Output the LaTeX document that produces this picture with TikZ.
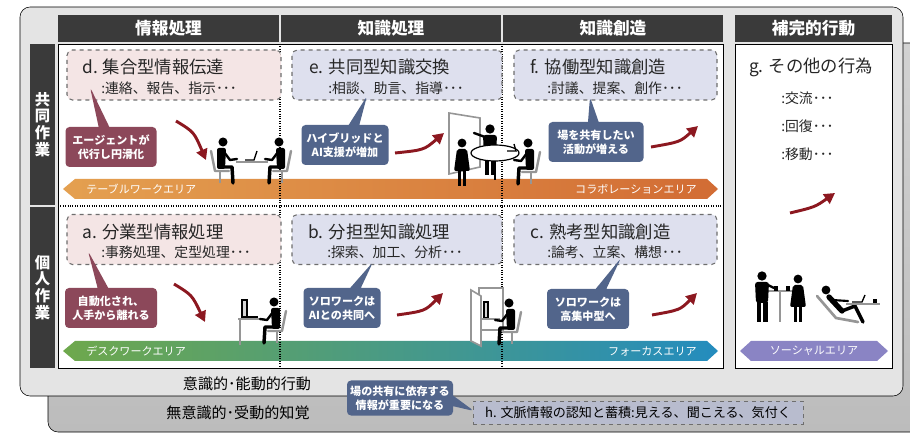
\documentclass[tikz,border=0pt]{standalone}
\usepackage{fontspec}
\setmainfont{Noto Sans CJK JP}
\usepackage{xcolor}
\usepackage{tikz}
\usetikzlibrary{shapes.callouts, arrows.meta, positioning}
\definecolor{hdrdark}{RGB}{58,58,58}
\definecolor{panelgray}{RGB}{228,228,228}
\definecolor{backtop}{RGB}{210,210,210}
\definecolor{backbot}{RGB}{188,188,188}
\definecolor{pinkbox}{RGB}{244,229,229}
\definecolor{bluebox}{RGB}{222,224,238}
\definecolor{dashgray}{RGB}{110,110,110}
\definecolor{callred}{RGB}{140,72,90}
\definecolor{callblue}{RGB}{82,101,139}
\definecolor{arrowred}{RGB}{140,24,32}
\definecolor{orangeL}{RGB}{228,160,80}
\definecolor{orangeR}{RGB}{210,108,52}
\definecolor{greenL}{RGB}{110,168,76}
\definecolor{tealR}{RGB}{36,140,190}
\definecolor{socialv}{RGB}{138,132,196}
\definecolor{chairgray}{RGB}{150,150,150}
\definecolor{hfill}{RGB}{184,188,206}
\tikzstyle{colhead} = [rectangle, fill=hdrdark, text=white, minimum height=20.25pt, inner sep=0pt, font=\bfseries\fontsize{12.5}{14}\selectfont]
\tikzstyle{rowhead} = [rectangle, fill=hdrdark, text=white, minimum width=18.75pt, minimum height=120.75pt, inner sep=0pt, align=center, font=\bfseries\fontsize{11.5}{12.5}\selectfont]
\tikzstyle{taskbox} = [rectangle, rounded corners=4pt, draw=dashgray, dashed, thick, minimum height=37.5pt]
\tikzstyle{tasktitle} = [anchor=west, inner sep=0pt, text=black!85, font=\fontsize{13}{15}\selectfont]
\tikzstyle{taskitem} = [anchor=west, inner sep=0pt, text=black!85, font=\fontsize{10.4}{12}\selectfont]
\tikzstyle{notered} = [rectangle callout, rounded corners=3pt, fill=callred, text=white, align=center, inner sep=2pt, callout pointer width=8pt, minimum height=30pt, font=\bfseries\fontsize{8.3}{10.5}\selectfont]
\tikzstyle{noteblue} = [notered, fill=callblue]
\tikzstyle{bandtext} = [inner sep=0pt, text=white, font=\fontsize{8.3}{10}\selectfont]
\tikzstyle{flow} = [line width=2.2pt, draw=arrowred, -{Triangle[length=8pt, width=8.5pt]}]
\tikzset{
  sitter/.pic={
    % chair
    \draw[chairgray, line width=1.8pt, line cap=round, line join=round] (-10,-18) -- (-6,2) -- (8,2);
    \draw[chairgray, line width=1.2pt] (-1,2) -- (-1,14);
    % head, torso, arm, legs
    \fill (2,-27) circle (3.4pt);
    \fill[rounded corners=1.5pt] (-4,-21) -- (5,-21) -- (4,0) -- (-4,0) -- cycle;
    \draw[line width=1.8pt, line cap=round, line join=round] (3,-17) -- (9,-9) -- (16,-10);
    \draw[line width=2.6pt, line cap=round, line join=round] (-1,-2) -- (11,-2) -- (12,14);
  },
  man/.pic={
    \fill (0,-46) circle (3.5pt);
    \fill[rounded corners=2pt] (-7,-40) -- (7,-40) -- (6,-19) -- (-6,-19) -- cycle;
    \fill (-5.5,-20) rectangle (-0.8,0);
    \fill (0.8,-20) rectangle (5.5,0);
  },
  woman/.pic={
    \fill (0,-43) circle (3.3pt);
    \fill[rounded corners=1.5pt] (-5,-37) -- (5,-37) -- (8,-15) -- (-8,-15) -- cycle;
    \fill (-4,-16) rectangle (-1,0);
    \fill (1,-16) rectangle (4,0);
  }
}

\begin{document}
\begin{tikzpicture}[x=0.75pt, y=-0.75pt]
    \clip (0,0) rectangle (910,434);

    % Panels
    \draw[thin, rounded corners=7.5pt, top color=backtop, bottom color=backbot] (48,43) rectangle (940,432);
    \draw[thin, rounded corners=7.5pt, fill=panelgray] (20,7) rectangle (903,396);
    \draw[thin, fill=white] (58,44) rectangle (723,368);
    \draw[thin, fill=white] (735,44) rectangle (892,368);

    % Headers
    \node[colhead, minimum width=165.75pt] (hinfo) at (168.5,28.5) {情報処理};
    \node[colhead, minimum width=165pt] (hknow) at (391,28.5) {知識処理};
    \node[colhead, minimum width=165pt] (hcreate) at (613,28.5) {知識創造};
    \node[colhead, minimum width=117.75pt] (hextra) at (813.5,28.5) {補完的行動};
    \node[rowhead] (rjoint) at (42.5,124.5) {共\\同\\作\\業};
    \node[rowhead] (rsolo) at (42.5,287.5) {個\\人\\作\\業};

    % Area bands
    \shade[left color=orangeL, right color=orangeR] (63,189) -- (75,179) -- (707,179) -- (718,189) -- (707,199) -- (75,199) -- cycle;
    \shade[left color=greenL, right color=tealR] (63,351) -- (75,341) -- (707,341) -- (718,351) -- (707,361) -- (75,361) -- cycle;
    \fill[socialv] (740,351) -- (751,341) -- (877,341) -- (888,351) -- (877,361) -- (751,361) -- cycle;
    \node[bandtext, anchor=west] (tablearea) at (86,189) {テーブルワークエリア};
    \node[bandtext, anchor=east] (collabarea) at (697,189) {コラボレーションエリア};
    \node[bandtext, anchor=west] (deskarea) at (86,351) {デスクワークエリア};
    \node[bandtext, anchor=east] (focusarea) at (697,351) {フォーカスエリア};
    \node[bandtext] (socialarea) at (814,351) {ソーシャルエリア};

    % Grid
    \draw[densely dotted, thick] (280,44) -- (280,368);
    \draw[densely dotted, thick] (502,44) -- (502,368);
    \draw[densely dotted, thick] (58,206) -- (723,206);

    % Task boxes
    \node[taskbox, fill=pinkbox, minimum width=160.5pt] (boxd) at (174,75) {};
    \node[taskbox, fill=bluebox, minimum width=157.5pt] (boxe) at (397,75) {};
    \node[taskbox, fill=bluebox, minimum width=152.25pt] (boxf) at (615.5,75) {};
    \node[taskbox, fill=pinkbox, minimum width=160.5pt] (boxa) at (174,239.5) {};
    \node[taskbox, fill=bluebox, minimum width=157.5pt] (boxb) at (397,239.5) {};
    \node[taskbox, fill=bluebox, minimum width=152.25pt] (boxc) at (615.5,239.5) {};
    \node[tasktitle] (titled) at (82,67) {d. 集合型情報伝達};
    \node[taskitem] (itemd) at (101,88) {:連絡、報告、指示･･･};
    \node[tasktitle] (titlee) at (309,67) {e. 共同型知識交換};
    \node[taskitem] (iteme) at (328,88) {:相談、助言、指導･･･};
    \node[tasktitle] (titlef) at (530,67) {f. 協働型知識創造};
    \node[taskitem] (itemf) at (547,88) {:討議、提案、創作･･･};
    \node[tasktitle] (titlea) at (82,232) {a. 分業型情報処理};
    \node[taskitem] (itema) at (101,252) {:事務処理、定型処理･･･};
    \node[tasktitle] (titleb) at (308,232) {b. 分担型知識処理};
    \node[taskitem] (itemb) at (327,252) {:探索、加工、分析･･･};
    \node[tasktitle] (titlec) at (530,232) {c. 熟考型知識創造};
    \node[taskitem] (itemc) at (547,252) {:論考、立案、構想･･･};

    % Other actions
    \node[tasktitle, anchor=center] (titleg) at (811,67) {g. その他の行為};
    \node[taskitem] (itemg1) at (781,98) {:交流･･･};
    \node[taskitem] (itemg2) at (781,126) {:回復･･･};
    \node[taskitem] (itemg3) at (781,154) {:移動･･･};

    % Callouts
    \coordinate (pd) at (90,87);
    \coordinate (pe) at (367,96);
    \coordinate (pf) at (590,97);
    \coordinate (pa) at (88,251);
    \coordinate (pb) at (373,262);
    \coordinate (pc) at (621,258);
    \coordinate (ph) at (474,411);
    \node[notered, minimum width=68.25pt, callout absolute pointer={(pd)}] (noted) at (111,147) {エージェントが\\代行し円滑化};
    \node[noteblue, minimum width=65.25pt, callout absolute pointer={(pe)}] (notee) at (345,145) {ハイブリッドと\\AI支援が増加};
    \node[noteblue, minimum width=71.25pt, callout absolute pointer={(pf)}] (notef) at (596,142) {場を共有したい\\活動が増える};
    \node[notered, minimum width=69pt, callout absolute pointer={(pa)}] (notea) at (111,308) {自動化され、\\人手から離れる};
    \node[noteblue, minimum width=57.75pt, callout absolute pointer={(pb)}] (noteb) at (342,308) {ソロワークは\\AIとの共同へ};
    \node[noteblue, minimum width=61.5pt, callout absolute pointer={(pc)}] (notec) at (588,309) {ソロワークは\\高集中型へ};

    % Trend arrows
    \draw[flow] (176,121) .. controls (194,132) .. (206,160);
    \draw[flow] (395,153) .. controls (424,150) .. (444,133);
    \draw[flow] (651,147) .. controls (680,142) .. (698,126);
    \draw[flow] (174,284) .. controls (192,295) .. (205,322);
    \draw[flow] (397,315) .. controls (425,311) .. (443,293);
    \draw[flow] (652,315) .. controls (680,310) .. (697,293);
    \draw[flow] (790,213) .. controls (815,207) .. (835,193);

    % Meeting at a table
    \draw[chairgray, line width=1.5pt] (236,162) -- (268,162);
    \draw[line width=1pt] (245,160) -- (254,160) -- (257,151);
    \pic at (221,169) {sitter};
    \pic[xscale=-1] at (281,169) {sitter};

    % Whiteboard and round table
    \draw[chairgray, fill=white, line width=1.2pt] (449,113) -- (480,118) -- (480,167) -- (449,174) -- cycle;
    \pic at (490,175) {man};
    \draw[line width=1.8pt, line cap=round] (485,137) -- (474,133);
    \draw[line width=1.5pt] (495,160) -- (495,180);
    \draw[fill=white, line width=0.9pt] (495,153) ellipse (18pt and 6pt);
    \pic at (462,186) {woman};
    \draw[line width=1pt] (507,151) -- (516,151) -- (514,144);
    \pic[xscale=-1] at (530,170) {sitter};

    % Desk work
    \draw[chairgray, line width=1.5pt] (238,319) -- (264,319);
    \draw[chairgray, line width=1.2pt] (240,319) -- (240,345);
    \draw[fill=chairgray!40, line width=0.8pt] (242,300) rectangle (247,317);
    \draw[line width=1pt] (247,317) -- (258,317);
    \pic[xscale=-1] at (276,329) {sitter};

    % Focus booth
    \draw[chairgray, fill=white, line width=1.2pt] (479,288) rectangle (503,330);
    \draw[chairgray, fill=white, line width=1.2pt] (471,290) -- (481,296) -- (481,346) -- (471,341) -- cycle;
    \draw[fill=chairgray!40, line width=0.8pt] (484,302) rectangle (488,318);
    \draw[chairgray, line width=1.5pt] (482,319) -- (500,319);
    \pic[xscale=-1] at (511,330) {sitter};

    % Social area
    \draw[chairgray, line width=2pt] (766,291) -- (795,291);
    \draw[chairgray, line width=1.5pt] (780,291) -- (780,322);
    \fill (774,286) rectangle (778,291);
    \fill (786,286) rectangle (790,291);
    \pic at (762,322) {man};
    \draw[line width=1.8pt, line cap=round] (766,284) -- (774,288);
    \pic at (798,322) {woman};
    \draw[chairgray, line width=2pt, line cap=round, line join=round] (817,296) -- (836,318) -- (858,322);
    \fill (826,290) circle (3.3pt);
    \draw[line width=4pt, line cap=round] (829,297) -- (842,311);
    \draw[line width=2.6pt, line cap=round, line join=round] (842,311) -- (855,306) -- (863,322);
    \draw[line width=1.6pt, line cap=round] (832,300) -- (848,301);
    \draw[chairgray, line width=1.5pt] (846,304) -- (880,304);
    \draw[line width=1pt] (852,302) -- (862,302) -- (865,295);
    \fill (873,299) rectangle (877,303);

    % Bottom layers
    \node[font=\fontsize{11.3}{13}\selectfont] (active) at (247,384) {意識的･能動的行動};
    \node[font=\fontsize{11.3}{13}\selectfont] (passive) at (238,413) {無意識的･受動的知覚};
    \node[rectangle, draw=dashgray, dashed, fill=hfill, minimum width=247.5pt, minimum height=17.25pt, inner sep=0pt, font=\fontsize{9.8}{11}\selectfont] (boxh) at (638,412.5) {h. 文脈情報の認知と蓄積:見える、聞こえる、気付く};
    \node[noteblue, minimum width=79.5pt, minimum height=26.25pt, callout absolute pointer={(ph)}] (noteh) at (400,398) {場の共有に依存する\\情報が重要になる};
\end{tikzpicture}
\end{document}
